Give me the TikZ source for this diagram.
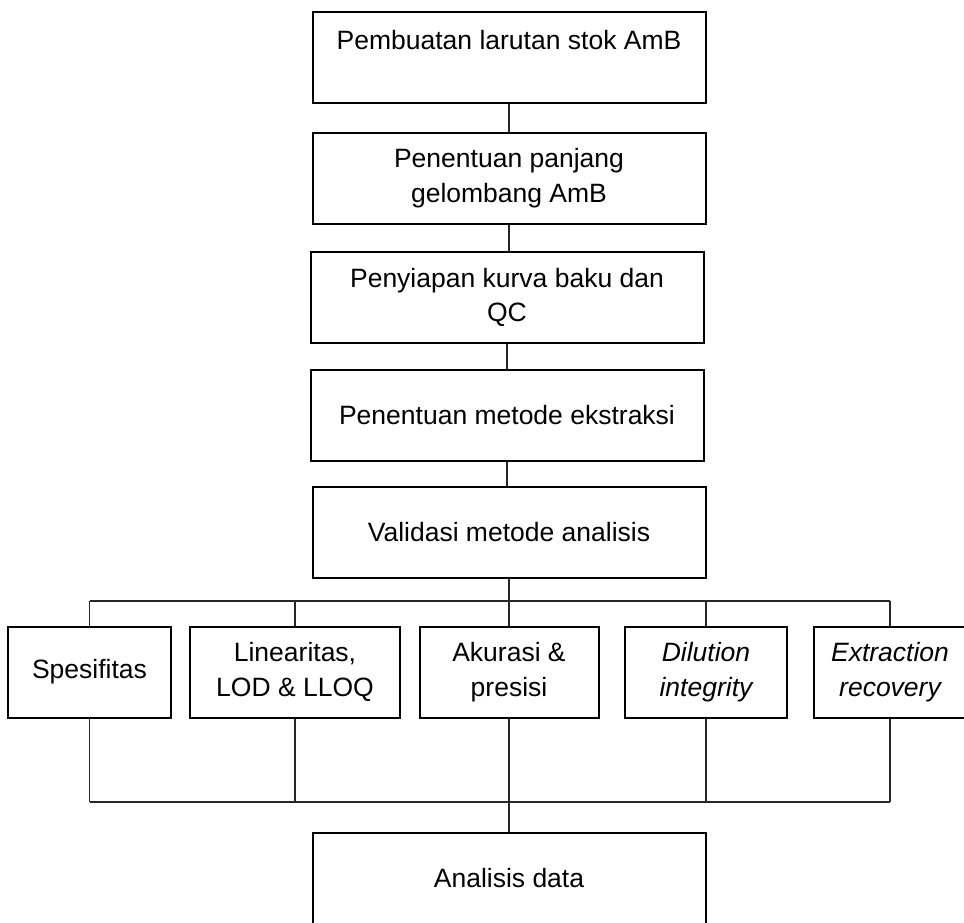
\documentclass[tikz,border=0pt]{standalone}
\usepackage{fontspec}
\setmainfont{Liberation Sans}
\usetikzlibrary{positioning}
\tikzset{
    stepbox/.style = {rectangle, draw=black, line width=1pt, align=center, inner sep=0pt,
                      minimum width=196.5pt, minimum height=45.5pt},
    subbox/.style = {stepbox, minimum height=45.5pt},
    link/.style = {draw=black!85, line width=0.65pt},
    every picture/.style={font issue=\fontsize{13.25}{17.25}},
    font issue/.style={execute at begin picture={#1\selectfont}
  }
}
\begin{document}
\begin{tikzpicture}[x=0.5pt, y=-0.5pt]
  \useasboundingbox (0,0) rectangle (964,922);

  % main steps
  \node[stepbox] (stok)    at (509,57.5)  {Pembuatan larutan stok AmB\\\mbox{}};
  \node[stepbox] (panjang) at (509,178)   {Penentuan panjang\\gelombang AmB};
  \node[stepbox] (kurva)   at (507,297.5) {Penyiapan kurva baku dan\\QC};
  \node[stepbox] (ekstr)   at (507,415)   {Penentuan metode ekstraksi};
  \node[stepbox] (valid)   at (509,532.5) {Validasi metode analisis};

  % validation parameters
  \node[subbox, minimum width=81.5pt] (spes)  at (89.5,672)  {Spesifitas};
  \node[subbox, minimum width=105pt]  (lin)   at (295,672)   {Linearitas,\\LOD \& LLOQ};
  \node[subbox, minimum width=89.5pt] (akur)  at (509,672)   {Akurasi \&\\presisi};
  \node[subbox, minimum width=81pt]   (dil)   at (706,672)   {\itshape Dilution\\\itshape integrity};
  \node[subbox, minimum width=76pt]   (extr)  at (890,672)   {\itshape Extraction\\\itshape recovery};

  \node[stepbox] (data) at (509,878.5) {Analisis data};

  % buses
  \coordinate (topbus) at (0,601);
  \coordinate (botbus) at (0,802);

  \draw[link] (stok) -- (panjang);
  \draw[link] (panjang.south) -- (panjang.south |- kurva.north);
  \draw[link] (kurva.south) -- (kurva.south |- ekstr.north);
  \draw[link] (ekstr.south) -- (ekstr.south |- valid.north);
  \draw[link] (valid.south) -- (valid.south |- topbus);
  \draw[link] (spes.north |- topbus) -- (extr.north |- topbus);
  \draw[link] (spes.south |- botbus) -- (extr.south |- botbus);
  \foreach \n in {spes,lin,akur,dil,extr} {
    \draw[link] (\n.north |- topbus) -- (\n.north);
    \draw[link] (\n.south) -- (\n.south |- botbus);
  }
  \draw[link] (data.north |- botbus) -- (data.north);

\end{tikzpicture}
\end{document}
